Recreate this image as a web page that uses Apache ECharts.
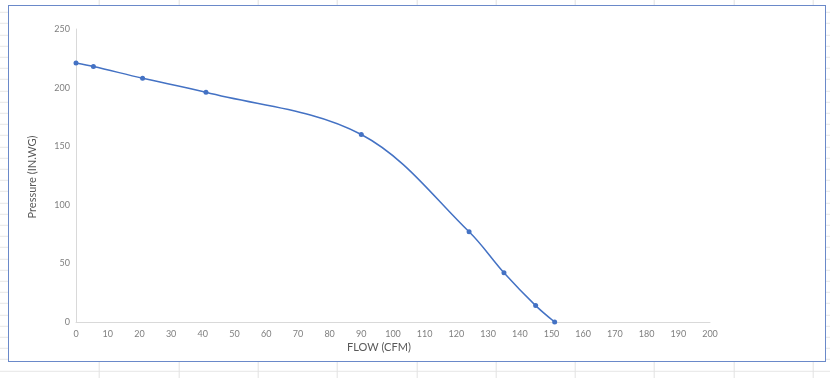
<!DOCTYPE html>
<html>
<head>
<meta charset="utf-8">
<script src="https://cdn.jsdelivr.net/npm/echarts@6/dist/echarts.min.js"></script>
<style>
html,body{margin:0;padding:0;width:830px;height:378px;overflow:hidden;background:#fff;}
#sheet{position:absolute;left:0;top:0;width:830px;height:378px;
 background-image:
  repeating-linear-gradient(to right, transparent 0, transparent 78.3px, #e2e2e2 78.3px, #e2e2e2 79.3px),
  repeating-linear-gradient(to bottom, transparent 0, transparent 10.2px, #e6e6e6 10.2px, #e6e6e6 11.2px);
 background-position: 20.7px 0, 0 1.8px;}
#frame{position:absolute;left:8px;top:5px;width:816px;height:355px;background:#fff;border:1.5px solid #6a89c9;}
#chart{position:absolute;left:0;top:0;width:830px;height:378px;}
</style>
</head>
<body>
<div id="sheet"></div>
<div id="frame"></div>
<div id="chart"></div>
<script>
const flow = [0, 5.5, 21, 41, 90, 124, 135, 145, 151];
const pressure = [221, 218, 208, 196, 160, 77, 42, 14, 0];
const xTicks = {min: 0, max: 200, interval: 10};
const yTicks = {min: 0, max: 250, interval: 50};
const xTitle = 'FLOW (CFM)';
const yTitle = 'Pressure (IN.WG)';

const chart = echarts.init(document.getElementById('chart'), null, {renderer: 'canvas'});
const labelStyle = {color: '#7f7f7f', fontSize: 9, fontFamily: 'Lato, "Liberation Sans", sans-serif'};
chart.setOption({
  backgroundColor: 'transparent',
  animation: false,
  grid: {left: 76, right: 120, top: 29, bottom: 56, containLabel: false},
  xAxis: {
    type: 'value', min: xTicks.min, max: xTicks.max, interval: xTicks.interval,
    axisLine: {show: true, lineStyle: {color: '#d9d9d9', width: 1}},
    axisTick: {show: false},
    splitLine: {show: false},
    axisLabel: Object.assign({margin: 8}, labelStyle)
  },
  yAxis: {
    type: 'value', min: yTicks.min, max: yTicks.max, interval: yTicks.interval,
    axisLine: {show: true, lineStyle: {color: '#d9d9d9', width: 1}},
    axisTick: {show: false},
    splitLine: {show: false},
    axisLabel: Object.assign({margin: 6}, labelStyle)
  },
  graphic: [
    {type: 'text', left: 347, top: 342, style: {text: xTitle, fill: '#595959', fontSize: 11, fontFamily: 'Lato, "Liberation Sans", sans-serif'}},
    {type: 'text', x: 32, y: 177, rotation: Math.PI / 2,
     style: {text: yTitle, fill: '#595959', fontSize: 11, fontFamily: 'Lato, "Liberation Sans", sans-serif', align: 'center', verticalAlign: 'middle'}}
  ],
  series: [{
    type: 'line',
    data: flow.map((f, i) => [f, pressure[i]]),
    smooth: 0.35,
    symbol: 'circle',
    symbolSize: 5,
    itemStyle: {color: '#4472c4'},
    lineStyle: {color: '#4472c4', width: 1.5}
  }]
});
</script>
</body>
</html>
